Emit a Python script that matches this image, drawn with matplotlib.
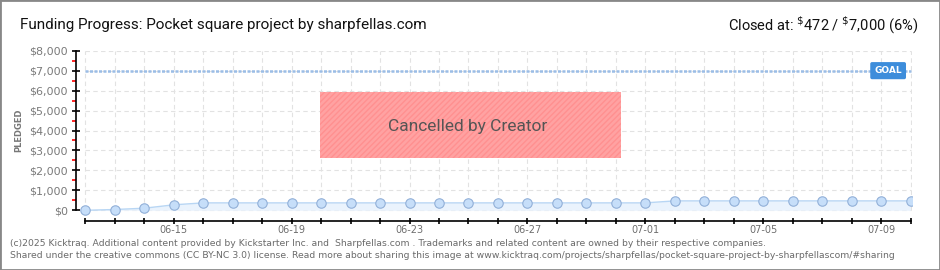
#!/usr/bin/env python3
# -*- coding: utf-8 -*-

import matplotlib
matplotlib.use("Agg")
import matplotlib.pyplot as plt
from matplotlib.patches import Rectangle

# ========= DATA =========
DATES = ['06-12', '06-13', '06-14', '06-15', '06-16', '06-17', '06-18',
         '06-19', '06-20', '06-21', '06-22', '06-23', '06-24', '06-25',
         '06-26', '06-27', '06-28', '06-29', '06-30', '07-01', '07-02',
         '07-03', '07-04', '07-05', '07-06', '07-07', '07-08', '07-09',
         '07-10']
PLEDGED = [0, 40, 105, 275, 372, 372, 372, 372, 372, 372, 372, 372, 372,
           372, 372, 372, 372, 372, 372, 372, 472, 472, 472, 472, 472,
           472, 472, 472, 472]
LABELED_DATES = ['06-15', '06-19', '06-23', '06-27', '07-01', '07-05', '07-09']
Y_TICKS = [0, 1000, 2000, 3000, 4000, 5000, 6000, 7000, 8000]
Y_MINOR = [500, 1500, 2500, 3500, 4500, 5500, 6500, 7500]
GOAL = 7000

TITLE = "Funding Progress: Pocket square project by sharpfellas.com"
CLOSED = r"Closed at: $^{\$}$472 / $^{\$}$7,000 (6%)"
FOOTER_1 = ("(c)2025 Kicktraq. Additional content provided by Kickstarter Inc. and  "
            "Sharpfellas.com . Trademarks and related content are owned by their "
            "respective companies.")
FOOTER_2 = ("Shared under the creative commons (CC BY-NC 3.0) license. Read more about "
            "sharing this image at www.kicktraq.com/projects/sharpfellas/"
            "pocket-square-project-by-sharpfellascom/#sharing")

# ========= STYLE =========
W, H = 940, 270
GRID_C = '#e2e2e2'
LINE_C = '#b8d6f4'
FILL_C = '#eaf3fd'
DOT_FACE = '#c6def9'
DOT_EDGE = '#92b0d8'
GOAL_C = '#9bbde6'
GOAL_BOX = '#3d8ddb'
TICK_TXT = '#6e6e6e'


def build():
    fig = plt.figure(figsize=(W / 100, H / 100), dpi=100)
    # plot area in pixels: x 76..912, y 50.7..221
    ax = fig.add_axes([76 / W, (H - 221) / H, (912 - 76) / W, (221 - 50.7) / H])
    ax.set_xlim(-0.316, 28.05)
    ax.set_ylim(-536, 8000)

    x = list(range(len(DATES)))

    # dashed grid, only inside the data region
    ax.vlines(x, Y_TICKS[0], Y_TICKS[-1], colors=GRID_C, linestyles=(0, (4, 3)),
              linewidth=0.8, zorder=0)
    ax.hlines(Y_TICKS, x[0], x[-1], colors=GRID_C, linestyles=(0, (4, 3)),
              linewidth=0.8, zorder=0)

    # cancelled banner
    ax.add_patch(Rectangle((7.96, 2606), 10.22, 3324, facecolor='#ffa2a2',
                           edgecolor='#ff9090', hatch='//////', linewidth=0,
                           zorder=1))
    ax.text(12.99, 4225, "Cancelled by Creator", ha='center', va='center',
            fontsize=12.5, color='#555555', family='Roboto', zorder=2)

    # goal line
    ax.hlines(GOAL, x[0], x[-1], colors=GOAL_C, linestyles=(0, (1.2, 0.6)),
              linewidth=1.8, zorder=2)
    ax.text(27.24, GOAL, "GOAL", ha='center', va='center', fontsize=6.5,
            fontweight='bold', color='white', zorder=4,
            bbox=dict(boxstyle='round,pad=0.45,rounding_size=0.2',
                      fc=GOAL_BOX, ec='none'))

    # pledged series
    ax.fill_between(x, PLEDGED, 0, color=FILL_C, linewidth=0, zorder=2)
    ax.plot(x, PLEDGED, color=LINE_C, linewidth=1.0, marker='o',
            markersize=6.8, markerfacecolor=DOT_FACE, markeredgecolor=DOT_EDGE,
            markeredgewidth=0.8, zorder=3)

    # axes / ticks
    for s in ['top', 'right']:
        ax.spines[s].set_visible(False)
    ax.spines['left'].set_bounds(Y_TICKS[0], Y_TICKS[-1])
    ax.spines['bottom'].set_bounds(x[0], x[-1])
    ax.spines['left'].set_linewidth(1.2)
    ax.spines['bottom'].set_linewidth(1.2)

    ax.set_xticks(x)
    ax.set_xticklabels([d if d in LABELED_DATES else '' for d in DATES])
    ax.tick_params(axis='x', direction='inout', length=5, width=1.2,
                   labelsize=7, labelcolor=TICK_TXT, pad=0.5)

    ax.set_yticks(Y_TICKS)
    ax.set_yticklabels([f"${v:,}" for v in Y_TICKS])
    ax.set_yticks(Y_MINOR, minor=True)
    ax.tick_params(axis='y', which='major', direction='inout', length=6,
                   width=1.2, labelsize=8, labelcolor='#7a7a7a', pad=3)
    ax.tick_params(axis='y', which='minor', direction='out', length=3,
                   width=1.2, color='red')

    # header / labels
    fig.text(20 / W, 1 - 25 / H, TITLE, ha='left', va='center', fontsize=11,
             family='Roboto', color='#111111')
    fig.text(918 / W, 1 - 25 / H, CLOSED, ha='right', va='center',
             fontsize=10.5, family='Roboto', color='#111111')
    fig.text(19 / W, 1 - 130 / H, "PLEDGED", rotation=90, ha='center',
             va='center', fontsize=6, fontweight='bold', color='#777777')

    fig.text(10 / W, 1 - 243.5 / H, FOOTER_1, ha='left', va='center',
             fontsize=6.7, color='#6a6a6a')
    fig.text(10 / W, 1 - 255 / H, FOOTER_2, ha='left', va='center',
             fontsize=6.7, color='#6a6a6a')

    # outer frame
    fig.patches.append(Rectangle((0, 0), 1, 1, transform=fig.transFigure,
                                 fill=False, edgecolor='#888888', linewidth=2))
    return fig


if __name__ == "__main__":
    fig = build()
    fig.savefig("out.png", dpi=100)
